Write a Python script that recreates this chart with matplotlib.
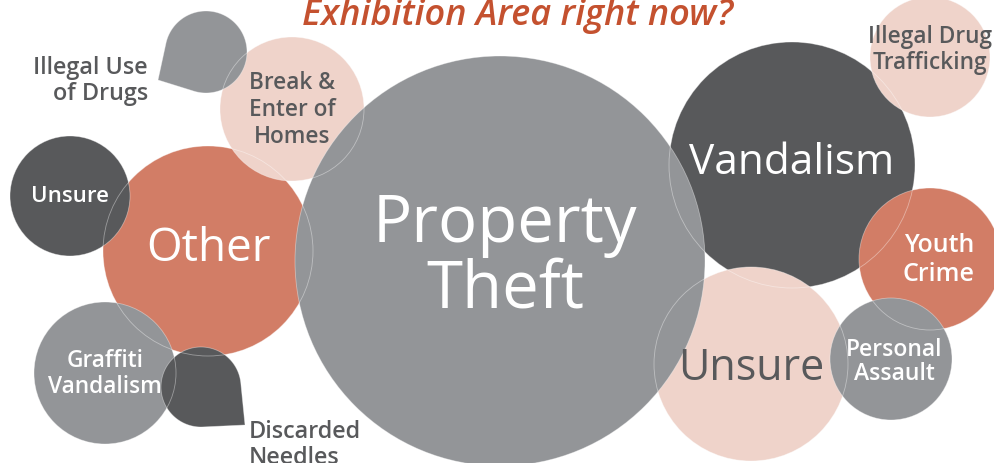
import numpy as np
import matplotlib
matplotlib.use("Agg")
import matplotlib.pyplot as plt
from matplotlib.patches import Circle, Polygon

plt.rcParams['font.family'] = ['Open Sans', 'DejaVu Sans']

# bubbles, in drawing order (pixel coords, y down)
labels = ["Other", "Unsure", "Graffiti\nVandalism", "Discarded\nNeedles",
          "Break &\nEnter of\nHomes", "Vandalism", "Unsure",
          "Illegal Drug\nTrafficking", "Youth\nCrime", "Personal\nAssault",
          "Property\nTheft", "Illegal Use\nof Drugs"]
cx = [208, 70, 105, 201, 292, 792, 751, 930, 930, 891, 500, 206]
cy = [252, 197, 374, 388, 110, 166, 365, 58, 260, 360, 262, 53]
rad = [105, 60, 71, 40, 72, 123, 97, 60, 71, 61, 205, 41]
# teardrop tips (None = plain circle)
tips = [None, None, None, (245, 426), None, None, None, None, None, None, None, (158, 81)]

dark = "#58595B"
gray = "#939598"
coral = "#D27D66"
pink = "#EFD3CA"
colors = [coral, dark, gray, dark, pink, dark, pink, pink, coral, gray, gray, gray]

# label placement/styling
lab_x = [208, 70, 105, 249, 292, 792, 751, 930, 939, 894, 505, 148]
lab_y = [249, 197, 374, 445, 110, 163, 369, 50, 260, 362, 258, 81]
lab_ha = ["center"] * 3 + ["left"] + ["center"] * 7 + ["right"]
lab_size = [33, 16, 16.3, 16.8, 16.3, 30.5, 31, 16.3, 18, 16.5, 47, 16.8]
lab_sp = [1.0, 1.0, 1.13, 1.13, 1.16, 1.0, 1.0, 1.1, 1.22, 1.05, 1.0, 1.1]
lab_w = ["normal", "semibold", "semibold", "semibold", "semibold", "normal", "normal",
         "semibold", "semibold", "semibold", "normal", "semibold"]
lab_col = ["white", "white", "white", dark, dark, "white", dark, dark, "white", "white", "white", dark]

title = "Exhibition Area right now?"

fig = plt.figure(figsize=(9.94, 4.64), dpi=100)
ax = fig.add_axes([0, 0, 1, 1])
ax.set_xlim(0, 994)
ax.set_ylim(464, 0)
ax.set_aspect("equal")
ax.axis("off")


def drop_points(c, r, tip, n=200):
    c = np.array(c, float)
    t = np.array(tip, float)
    v = t - c
    d = np.hypot(*v)
    th0 = np.arctan2(v[1], v[0])
    a = np.arccos(r / d)
    ang = np.linspace(th0 + a, th0 + 2 * np.pi - a, n)
    pts = np.column_stack([c[0] + r * np.cos(ang), c[1] + r * np.sin(ang)])
    return np.vstack([pts, t])


for i in range(len(labels)):
    if tips[i] is None:
        p = Circle((cx[i], cy[i]), rad[i], facecolor=colors[i], edgecolor="none")
    else:
        p = Polygon(drop_points((cx[i], cy[i]), rad[i], tips[i]), closed=True,
                    facecolor=colors[i], edgecolor="none")
    ax.add_patch(p)

# faint outlines over everything
for i in range(len(labels)):
    if tips[i] is None:
        p = Circle((cx[i], cy[i]), rad[i], fill=False, edgecolor="white", lw=0.6, alpha=0.4)
    else:
        p = Polygon(drop_points((cx[i], cy[i]), rad[i], tips[i]), closed=True,
                    fill=False, edgecolor="white", lw=0.6, alpha=0.4)
    ax.add_patch(p)

for i in range(len(labels)):
    ax.text(lab_x[i], lab_y[i], labels[i], ha=lab_ha[i], va="center",
            multialignment=lab_ha[i], fontsize=lab_size[i], color=lab_col[i],
            linespacing=lab_sp[i], fontweight=lab_w[i])

ax.text(517, 25, title, ha="center", va="baseline", fontsize=26, style="italic",
        color="#C4512F", fontweight="semibold")

fig.savefig("out.png", dpi=100)
